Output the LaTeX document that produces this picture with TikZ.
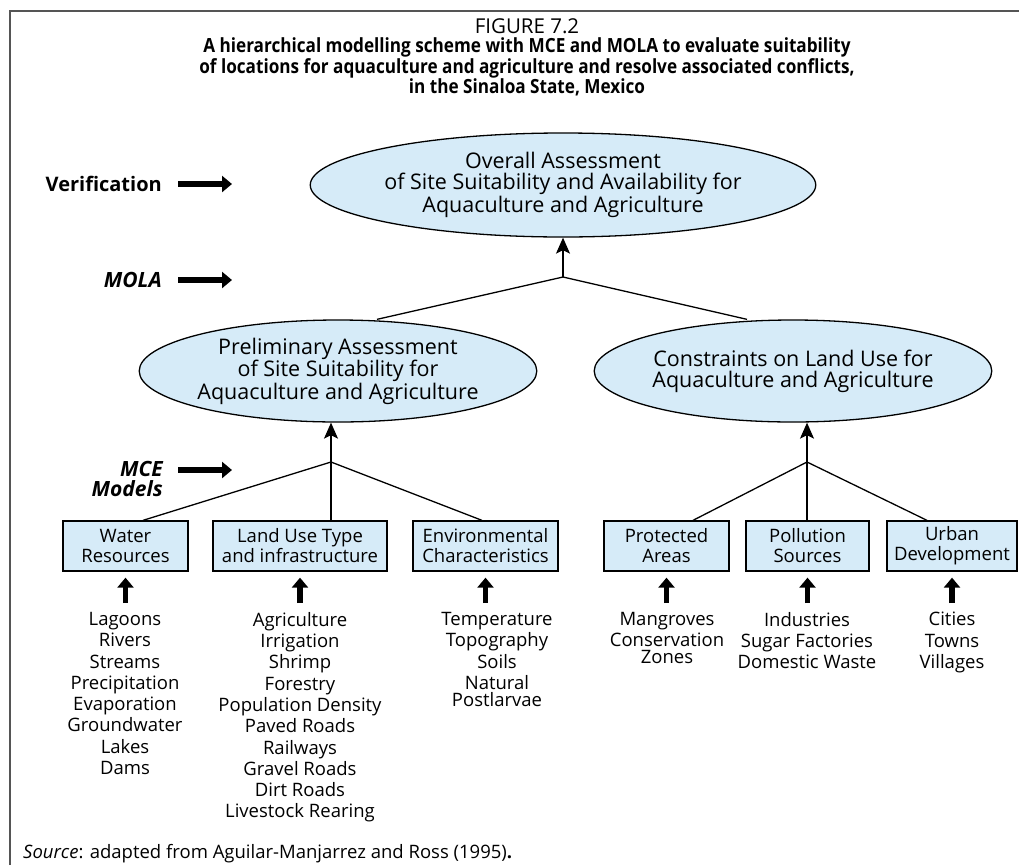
\documentclass[tikz,border=0pt]{standalone}
\usepackage{fontspec}
\setmainfont{Open Sans}
\newfontfamily\headfont[FakeStretch=0.88]{Open Sans}
\usetikzlibrary{arrows.meta,shapes.geometric,calc}

\definecolor{paleblue}{RGB}{214,235,248}
\definecolor{framegray}{RGB}{85,85,85}

\begin{document}
\begin{tikzpicture}[x=1pt,y=-1pt,
  ellipsebox/.style={ellipse, draw, line width=1.3pt, fill=paleblue, inner sep=0pt,
    align=center, font=\fontsize{21.5}{21}\selectfont},
  catbox/.style={rectangle, draw, line width=1.3pt, fill=paleblue, inner sep=0pt,
    minimum height=50pt, align=center, font=\fontsize{18.5}{20}\selectfont},
  itemlist/.style={anchor=north, inner sep=0pt, align=center,
    font=\fontsize{18.5}{21.3}\selectfont},
  levellabel/.style={anchor=east, inner sep=0pt, align=right,
    font=\fontsize{20}{20}\selectfont\bfseries},
  link/.style={line width=1.3pt},
  uparrow/.style={line width=1.3pt, -{Stealth[length=16pt,width=14pt,inset=3.5pt]}},
  fatarrow/.style={line width=5.5pt, -{Triangle[length=10pt,width=16pt]}},
]
\useasboundingbox (0,0) rectangle (1019,865);

% frame
\draw[framegray, line width=2pt] (10,865) -- (10,11) -- (1019,11);

% heading
\node (title) [anchor=north, align=center, inner sep=0pt,
  font=\headfont\fontsize{19.5}{19}\selectfont\bfseries] at (527,18.5)
  {{\normalfont\fontsize{20.5}{19}\selectfont FIGURE 7.2}\\
   A hierarchical modelling scheme with MCE and MOLA to evaluate suitability\\
   of locations for aquaculture and agriculture and resolve associated conflicts,\\
   in the Sinaloa State, Mexico};

% level labels
\node[levellabel] (ver) at (162,184) {Verification};
\node[levellabel, font=\fontsize{21}{20}\selectfont\bfseries\itshape] (mola) at (162,280) {MOLA};
\node[levellabel, font=\fontsize{21}{20}\selectfont\bfseries\itshape] (mce) at (163,479) {MCE\\Models};

\draw[fatarrow] ([xshift=16pt]ver.east) -- ([xshift=70pt]ver.east);
\draw[fatarrow] ([xshift=16pt]mola.east) -- ([xshift=70pt]mola.east);
\draw[fatarrow] ([shift={(15pt,9pt)}]mce.east) -- ([shift={(69pt,9pt)}]mce.east);

% assessments
\node[ellipsebox, minimum width=488pt, minimum height=104pt] (oa) at (563,185)
  {Overall Assessment\\of Site Suitability and Availability for\\Aquaculture and Agriculture};
\node[ellipsebox, minimum width=380pt, minimum height=102pt] (pa) at (338,371)
  {Preliminary Assessment\\of Site Suitability for\\Aquaculture and Agriculture};
\node[ellipsebox, minimum width=361pt, minimum height=102pt] (cl) at (793,371)
  {Constraints on Land Use for\\Aquaculture and Agriculture};

% factor boxes
\node[catbox, minimum width=125pt] (wr) at (125.5,546) {Water\\Resources};
\node[catbox, minimum width=174pt] (lu) at (300,546) {Land Use Type\\and infrastructure};
\node[catbox, minimum width=145pt] (ec) at (485.5,546) {Environmental\\Characteristics};
\node[catbox, minimum width=125pt] (pr) at (666.5,546) {Protected\\Areas};
\node[catbox, minimum width=123pt] (ps) at (807.5,546) {Pollution\\Sources};
\node[catbox, minimum width=130pt] (ud) at (952,546) {Urban\\Development};

% data layers
\node[itemlist] (wl) at (125,612) {Lagoons\\Rivers\\Streams\\Precipitation\\Evaporation\\Groundwater\\Lakes\\Dams};
\node[itemlist] (ll) at (300,612) {Agriculture\\Irrigation\\Shrimp\\Forestry\\Population Density\\Paved Roads\\Railways\\Gravel Roads\\Dirt Roads\\Livestock Rearing};
\node[itemlist] (el) at (497,612) {Temperature\\Topography\\Soils\\Natural\\[-4.5pt]Postlarvae};
\node[itemlist] (pl) at (667,612) {Mangroves\\Conservation\\[-4.5pt]Zones};
\node[itemlist] (sl) at (807,612) {Industries\\Sugar Factories\\Domestic Waste};
\node[itemlist] (ul) at (952,612) {Cities\\Towns\\Villages};

% layers feeding the factors
\foreach \lst/\cat in {wl/wr, ll/lu, el/ec, pl/pr, sl/ps, ul/ud}
  \draw[fatarrow, shorten <=9pt, shorten >=6pt] (\cat.south |- \lst.north) -- (\cat.south);

% junctions
\coordinate (topj) at (563,277);
\coordinate (mcej) at (331,462);
\coordinate (conj) at (807,462);

\draw[uparrow] (topj) -- (oa.south);
\draw[link] (topj) -- ([xshift=39pt]pa.north);
\draw[link] (topj) -- ([xshift=-46pt]cl.north);

\draw[uparrow] (mcej) -- (mcej |- pa.south);
\draw[link] (mcej) -- ([xshift=17.5pt]wr.north);
\draw[link] (mcej) -- (mcej |- lu.north);
\draw[link] (mcej) -- ([xshift=-3.5pt]ec.north);

\draw[uparrow] (conj) -- (conj |- cl.south);
\draw[link] (conj) -- ([xshift=26.5pt]pr.north);
\draw[link] (conj) -- (conj |- ps.north);
\draw[link] (conj) -- ([xshift=-25pt]ud.north);

% source line
\node[anchor=base west, inner sep=0pt, font=\fontsize{18.5}{20}\selectfont] (src) at (23,858)
  {\textit{Source}: adapted from Aguilar-Manjarrez and Ross (1995)\textbf{.}};
\end{tikzpicture}
\end{document}
